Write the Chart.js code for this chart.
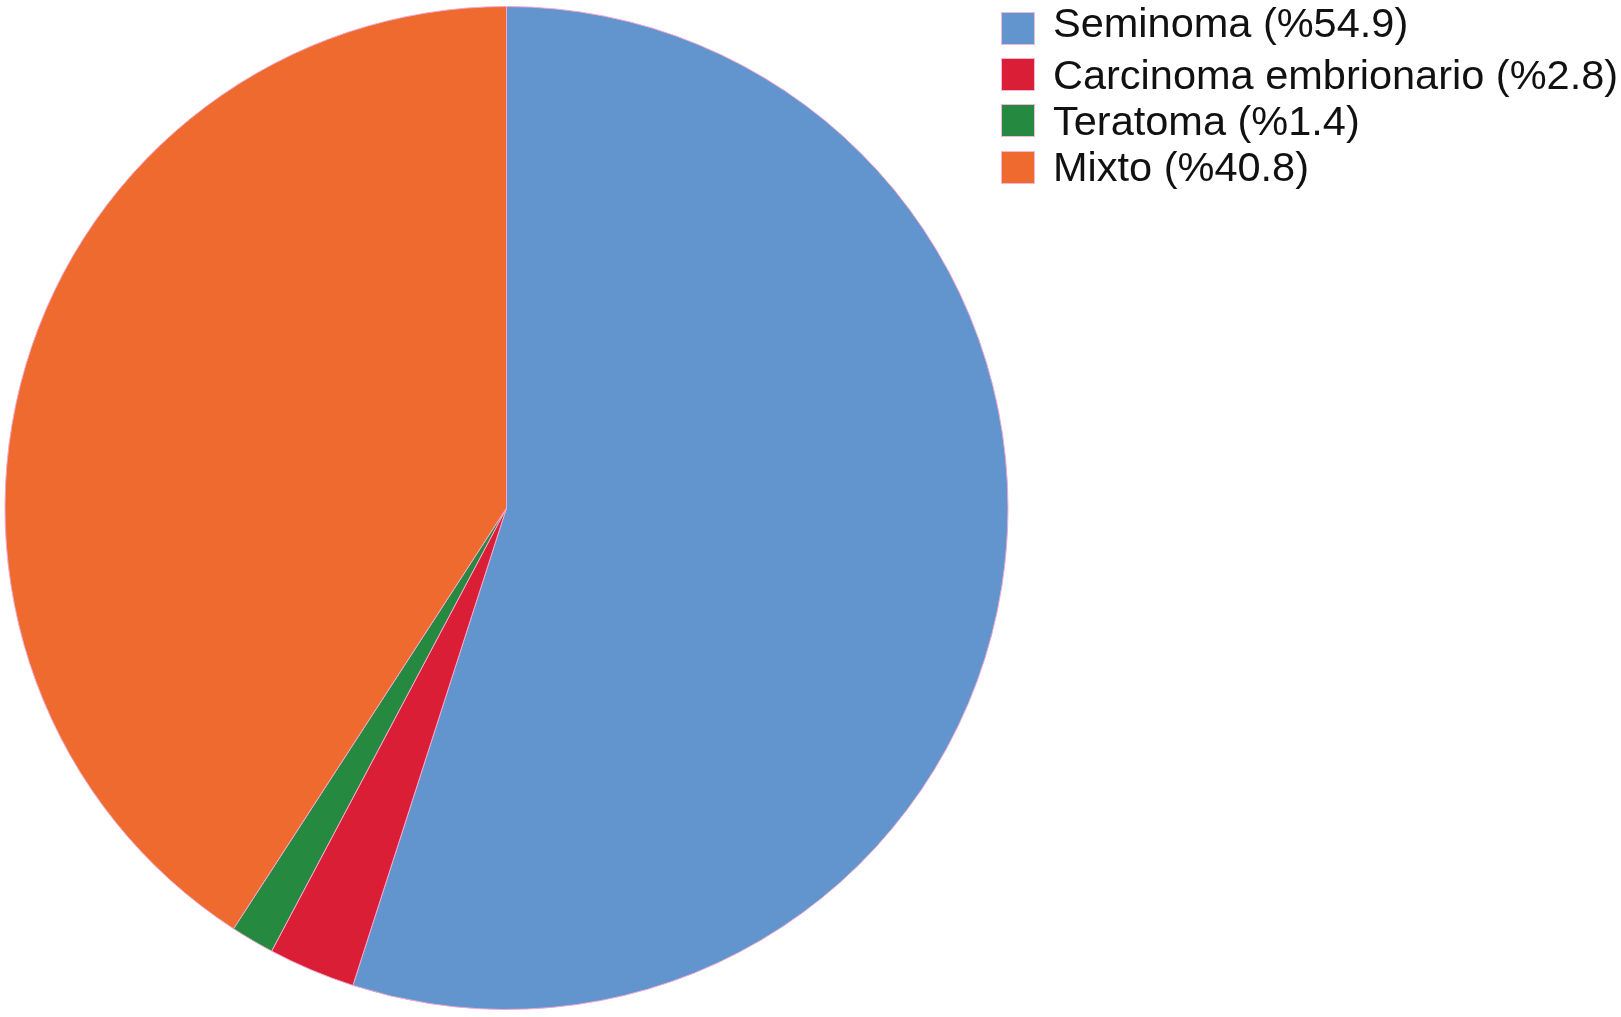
<!DOCTYPE html>
<html>
<head>
<meta charset="utf-8">
<script src="https://cdn.jsdelivr.net/npm/chart.js@4"></script>
<style>
  body { margin: 0; background: #fff; }
  #wrap { position: relative; width: 1621px; height: 1017px; overflow: hidden; }
  #pie { position: absolute; left: 0; top: 0; }
  .row { position: absolute; left: 1001px; height: 33px; }
  .box { position: absolute; left: 0; top: 0; width: 32px; height: 31px; border: 1px solid #f2b6d6; }
  .txt { position: absolute; left: 52px; top: -4.6px; white-space: nowrap;
         font-family: "Liberation Sans", Arial, sans-serif; font-size: 41.5px; line-height: 41.5px; color: #111; }
  .row:first-child .txt { top: -10px; }
</style>
</head>
<body>
<div id="wrap">
  <canvas id="pie" width="1621" height="1017"></canvas>
  <div id="legend"></div>
</div>
<script>
// Tumor types (percent)
const categories = ["Seminoma", "Carcinoma embrionario", "Teratoma", "Mixto"];
const values = [54.9, 2.8, 1.4, 40.8];
const colors = ["#6294ce", "#d91e36", "#25893f", "#ee6a2f"];

// Legend
const legend = document.getElementById("legend");
categories.forEach((name, i) => {
  const row = document.createElement("div");
  row.className = "row";
  row.style.top = (12 + i * 46.2) + "px";
  row.innerHTML = '<div class="box" style="background:' + colors[i] + '"></div>' +
    '<span class="txt">' + name + " (%" + values[i] + ")</span>";
  legend.appendChild(row);
});

// Pie
new Chart(document.getElementById("pie"), {
  type: "pie",
  data: {
    labels: categories,
    datasets: [{
      data: values,
      backgroundColor: colors,
      borderColor: "#f0a8d0",
      borderWidth: 1
    }]
  },
  options: {
    responsive: false,
    animation: false,
    devicePixelRatio: 1,
    layout: { padding: { left: 4, right: 612, top: 6, bottom: 7 } },
    plugins: {
      legend: { display: false },
      tooltip: { enabled: false }
    }
  }
});
</script>
</body>
</html>
